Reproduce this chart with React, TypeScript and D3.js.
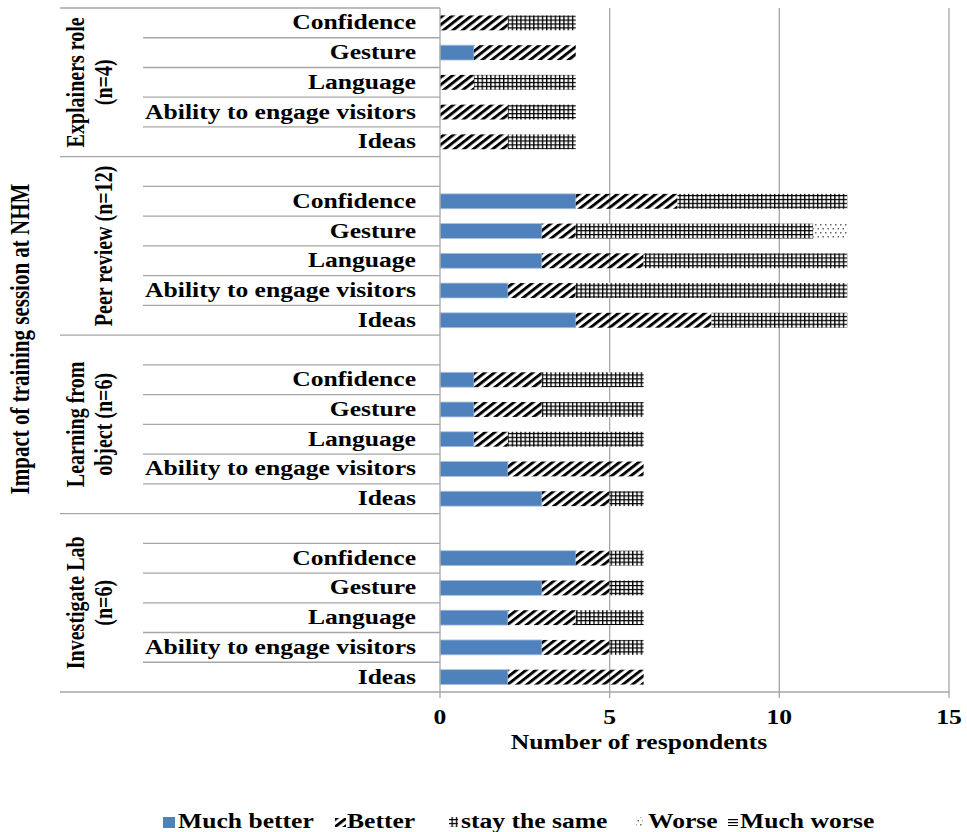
import React from "react";
import * as d3 from "d3";

// Survey groups (top to bottom) and the skills rated in each
const groupLabels: string[][] = [
  ["Explainers role", "(n=4)"],
  ["Peer review (n=12)"],
  ["Learning from", "object (n=6)"],
  ["Investigate Lab", "(n=6)"],
];
const skills = ["Confidence", "Gesture", "Language", "Ability to engage visitors", "Ideas"];
const seriesNames = ["Much better", "Better", "stay the same", "Worse", "Much worse"];

// Respondent counts per group, in the skill order above
const muchBetter = [
  [0, 1, 0, 0, 0],
  [4, 3, 3, 2, 4],
  [1, 1, 1, 2, 3],
  [4, 3, 2, 3, 2],
];
const better = [
  [2, 3, 1, 2, 2],
  [3, 1, 3, 2, 4],
  [2, 2, 1, 4, 2],
  [1, 2, 2, 2, 4],
];
const staySame = [
  [2, 0, 3, 2, 2],
  [5, 7, 6, 8, 4],
  [3, 3, 4, 0, 1],
  [1, 1, 2, 1, 0],
];
const worse = [
  [0, 0, 0, 0, 0],
  [0, 1, 0, 0, 0],
  [0, 0, 0, 0, 0],
  [0, 0, 0, 0, 0],
];
const muchWorse = [
  [0, 0, 0, 0, 0],
  [0, 0, 0, 0, 0],
  [0, 0, 0, 0, 0],
  [0, 0, 0, 0, 0],
];
const xTicks = [0, 5, 10, 15];

const FONT = "'Liberation Serif', 'Times New Roman', serif";
const SX = 1.28; // horizontal text stretch

type Slot = { id: string; group: number; skill: number | null };

export default function App() {
  // build category slots; groups after the first open with an empty slot
  const slots: Slot[] = [];
  groupLabels.forEach((_, g) => {
    if (g > 0) slots.push({ id: `blank-${g}`, group: g, skill: null });
    skills.forEach((_, s) => slots.push({ id: `${g}-${s}`, group: g, skill: s }));
  });

  const top = 8;
  const bottom = 692;
  const x = d3.scaleLinear().domain([0, 15]).range([440, 949]);
  const y = d3
    .scaleBand<string>()
    .domain(slots.map((d) => d.id))
    .range([top, bottom])
    .paddingInner(0.5)
    .paddingOuter(0.25);
  const step = y.step();
  const slotTop = (id: string) => (y(id) as number) - step * 0.25;

  const seriesData = [muchBetter, better, staySame, worse, muchWorse];
  const fills = ["#4F81BD", "url(#pBetter)", "url(#pSame)", "url(#pWorse)", "url(#pMuchWorse)"];

  const rows = slots
    .filter((s) => s.skill !== null)
    .map((s) => {
      const vals = seriesData.map((arr) => arr[s.group][s.skill as number]);
      const stack = d3.stack<number[]>().keys([0, 1, 2, 3, 4] as any).value((d, k) => d[k as any])([vals]);
      return { slot: s, segs: stack.map((layer, i) => ({ i, x0: layer[0][0], x1: layer[0][1] })) };
    });

  // group boundaries
  const groupBounds = groupLabels.map((_, g) => {
    const ids = slots.filter((s) => s.group === g);
    const y0 = slotTop(ids[0].id);
    const y1 = slotTop(ids[ids.length - 1].id) + step;
    return { y0, y1 };
  });

  const gridColor = "#a6a6a6";

  const SText = (p: {
    x: number;
    y: number;
    anchor?: string;
    size?: number;
    rotate?: boolean;
    children: React.ReactNode;
  }) => (
    <g transform={`translate(${p.x},${p.y}) scale(${SX},1)${p.rotate ? " rotate(-90)" : ""}`}>
      <text
        textAnchor={p.anchor || "start"}
        fontFamily={FONT}
        fontWeight="bold"
        fontSize={p.size || 20}
        fill="#000"
      >
        {p.children}
      </text>
    </g>
  );

  const legendItems = [
    { fill: fills[0], rx: 163, ry: 817, rw: 12, rh: 11, tx: 178 },
    { fill: fills[1], rx: 335, ry: 818, rw: 11, rh: 9, tx: 347 },
    { fill: fills[2], rx: 449, ry: 817, rw: 9, rh: 10, tx: 461 },
    { fill: fills[3], rx: 636, ry: 817, rw: 7, rh: 10, tx: 648 },
    { fill: fills[4], rx: 728, ry: 819, rw: 10, rh: 7, tx: 740 },
  ];

  return (
    <svg
      width={967}
      height={832}
      style={{ position: "absolute", left: 0, top: 0, background: "#fff" }}
    >
      <defs>
        <pattern
          id="pBetter"
          patternUnits="userSpaceOnUse"
          width={5.3}
          height={10}
          patternTransform={`scale(${SX},1) rotate(45)`}
        >
          <rect x={0} y={0} width={2.6} height={10} fill="#000" />
        </pattern>
        <pattern id="pSame" patternUnits="userSpaceOnUse" width={4.3} height={3.9}>
          <rect width={4.3} height={3.9} fill="#fff" />
          <rect x={0} y={0} width={1.3} height={3.9} fill="#000" />
          <rect x={0} y={0} width={4.3} height={1.2} fill="#000" />
        </pattern>
        <pattern id="pWorse" patternUnits="userSpaceOnUse" width={5} height={8}>
          <rect width={5} height={8} fill="#fff" />
          <rect x={0} y={0} width={1.5} height={1.5} fill="#666" />
          <rect x={2.5} y={4} width={1.5} height={1.5} fill="#666" />
        </pattern>
        <pattern id="pMuchWorse" patternUnits="userSpaceOnUse" width={4} height={3}>
          <rect width={4} height={3} fill="#fff" />
          <rect x={0} y={0} width={4} height={1.2} fill="#000" />
        </pattern>
      </defs>

      {/* vertical gridlines */}
      {xTicks.slice(1).map((t) => (
        <line key={`g${t}`} x1={x(t)} x2={x(t)} y1={top} y2={bottom} stroke={gridColor} strokeWidth={1.3} />
      ))}

      {/* bars */}
      {rows.map((r) =>
        r.segs
          .filter((s) => s.x1 > s.x0)
          .map((s) => (
            <rect
              key={`${r.slot.id}-${s.i}`}
              x={x(s.x0)}
              y={y(r.slot.id)}
              width={x(s.x1) - x(s.x0)}
              height={y.bandwidth()}
              fill={fills[s.i]}
              stroke={s.i === 0 ? "#a9c0df" : "none"}
              strokeWidth={s.i === 0 ? 0.8 : 0}
            />
          ))
      )}

      {/* category axis line and row separators */}
      <line x1={x(0)} x2={x(0)} y1={top} y2={bottom} stroke={gridColor} strokeWidth={1.3} />
      {slots.map((s, i) =>
        i === 0 ? null : (
          <line
            key={`sep${s.id}`}
            x1={s.group !== slots[i - 1].group ? 60 : 143}
            x2={x(0)}
            y1={slotTop(s.id)}
            y2={slotTop(s.id)}
            stroke={gridColor}
            strokeWidth={1.3}
          />
        )
      )}
      <line x1={60} x2={x(0)} y1={top} y2={top} stroke={gridColor} strokeWidth={1.3} />

      {/* value axis */}
      <line x1={60} x2={x(15)} y1={bottom} y2={bottom} stroke={gridColor} strokeWidth={1.3} />
      {xTicks.map((t) => (
        <g key={`t${t}`}>
          <line x1={x(t)} x2={x(t)} y1={bottom} y2={bottom + 6} stroke={gridColor} strokeWidth={1.3} />
          <SText x={x(t)} y={724} anchor="middle">
            {t}
          </SText>
        </g>
      ))}
      <SText x={639} y={749} anchor="middle">
        Number of respondents
      </SText>

      {/* skill labels */}
      {rows.map((r) => (
        <SText key={`l${r.slot.id}`} x={416} y={(y(r.slot.id) as number) + y.bandwidth() / 2 + 6.5} anchor="end">
          {skills[r.slot.skill as number]}
        </SText>
      ))}

      {/* group labels */}
      {groupLabels.map((lines, g) => {
        const cy = (groupBounds[g].y0 + groupBounds[g].y1) / 2;
        return lines.map((ln, k) => (
          <SText
            key={`gl${g}-${k}`}
            x={112 - (lines.length - 1 - k) * 28}
            y={cy}
            anchor="middle"
            rotate
          >
            {ln}
          </SText>
        ));
      })}

      {/* axis title */}
      <SText x={29} y={339} anchor="middle" rotate size={21}>
        Impact of training session at NHM
      </SText>

      {/* legend */}
      {legendItems.map((it, i) => (
        <g key={`lg${i}`}>
          <rect x={it.rx} y={it.ry} width={it.rw} height={it.rh} fill={it.fill} />
          <SText x={it.tx} y={828}>
            {seriesNames[i]}
          </SText>
        </g>
      ))}
    </svg>
  );
}
